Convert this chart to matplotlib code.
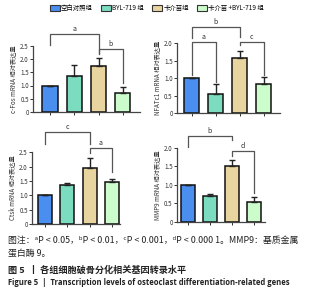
import matplotlib
matplotlib.use('Agg')
import matplotlib.pyplot as plt
import matplotlib.patches as patches

plt.rcParams['font.family'] = ['Noto Sans CJK SC', 'DejaVu Sans']

groups = ['空白对照组', 'BYL-719 组', '卡介苗组', '卡介苗 +BYL-719 组']
colors = ['#4a8ef0', '#7cdcc0', '#e8d49e', '#ccfccc']

genes = ['c-Fos', 'NFATc1', 'Ctsk', 'MMP9']
means = {
    'c-Fos': [1.0, 1.35, 1.72, 0.73],
    'NFATc1': [1.0, 0.55, 1.58, 0.82],
    'Ctsk': [1.0, 1.35, 1.95, 1.47],
    'MMP9': [1.0, 0.70, 1.50, 0.55],
}
errors = {
    'c-Fos': [0.0, 0.43, 0.33, 0.20],
    'NFATc1': [0.0, 0.28, 0.20, 0.21],
    'Ctsk': [0.0, 0.07, 0.35, 0.08],
    'MMP9': [0.0, 0.05, 0.18, 0.13],
}
ymax = {'c-Fos': 2.5, 'NFATc1': 2.0, 'Ctsk': 2.5, 'MMP9': 2.0}

# brackets: (left bar, right bar, top, left leg end, right leg end, label)
brackets = {
    'c-Fos': [(0, 2, 2.95, 2.54, 2.23, 'a'), (2, 3, 2.39, 2.20, 1.10, 'b')],
    'NFATc1': [(0, 2, 2.46, 2.14, 2.17, 'b'), (0, 1, 2.03, 1.10, 0.89, 'a'),
               (2, 3, 2.03, 1.94, 1.08, 'c')],
    'Ctsk': [(0, 2, 3.19, 2.78, 2.78, 'c'), (2, 3, 2.64, 2.47, 1.80, 'a')],
    'MMP9': [(0, 2, 2.32, 2.03, 2.20, 'b'), (2, 3, 1.92, 1.78, 0.78, 'd')],
}

# axes placement in figure fraction and x-limits
axes_pos = {
    'c-Fos': ([0.0985, 0.627, 0.319, 0.220], (-0.70, 3.70)),
    'NFATc1': ([0.528, 0.623, 0.307, 0.233], (-0.62, 3.67)),
    'Ctsk': ([0.0955, 0.253, 0.263, 0.240], (-0.58, 3.36)),
    'MMP9': ([0.528, 0.260, 0.263, 0.247], (-0.50, 3.50)),
}

fig = plt.figure(figsize=(3.35, 3.0), dpi=100)

for g in genes:
    pos, xl = axes_pos[g]
    ax = fig.add_axes(pos)
    x = range(len(groups))
    ax.bar(x, means[g], width=0.62, color=colors, edgecolor='#111111', lw=1.1, zorder=2)
    ax.errorbar(x, means[g], yerr=[[0] * 4, errors[g]], fmt='none', ecolor='#222222',
                elinewidth=1.0, capsize=2.5, capthick=1.0, zorder=3)
    ax.set_xlim(*xl)
    ax.set_ylim(0, ymax[g])
    ticks = [i * 0.5 for i in range(int(ymax[g] / 0.5) + 1)]
    ax.set_yticks(ticks)
    ax.set_yticklabels(['0'] + ['%.1f' % t for t in ticks[1:]])
    ax.set_xticks(list(x))
    ax.set_xticklabels([])
    ax.tick_params(axis='both', labelsize=4.5, length=2, width=0.7, colors='#333333', pad=1)
    for s in ['top', 'right']:
        ax.spines[s].set_visible(False)
    for s in ['left', 'bottom']:
        ax.spines[s].set_linewidth(0.9)
        ax.spines[s].set_color('#444444')
    ax.set_ylabel(g + ' mRNA 相对表达量', fontsize=4.5, color='#333333', labelpad=2)

    for (i, j, top, lend, rend, lab) in brackets[g]:
        ax.plot([i, i, j, j], [lend, top, top, rend], color='#555555', lw=0.9,
                clip_on=False, zorder=4)
        ax.text((i + j) / 2, top + 0.03, lab, ha='center', va='bottom', fontsize=5,
                color='#333333', clip_on=False)

handles = [patches.Patch(facecolor=c, edgecolor='#333333', lw=0.8) for c in colors]
fig.legend(handles, groups, loc='upper center', bbox_to_anchor=(0.468, 1.005), ncol=4,
           fontsize=4.6, frameon=False, handlelength=1.6, handleheight=0.9,
           handletextpad=0.15, columnspacing=1.3)

cap_color = '#222222'
fig.text(0.024, 0.197, '图注：ᵃP < 0.05，ᵇP < 0.01，ᶜP < 0.001，ᵈP < 0.000 1。MMP9：基质金属',
         fontsize=6.4, color=cap_color, va='center', ha='left')
fig.text(0.024, 0.157, '蛋白酶 9。', fontsize=6.4, color=cap_color, va='center', ha='left')
fig.text(0.024, 0.100, '图 5  丨 各组细胞破骨分化相关基因转录水平', fontsize=6.6,
         color=cap_color, va='center', ha='left', fontweight='bold')
fig.text(0.024, 0.057, 'Figure 5  |  Transcription levels of osteoclast differentiation-related genes',
         fontsize=5.5, color=cap_color, va='center', ha='left', fontweight='bold',
         family=['Open Sans', 'DejaVu Sans'])

plt.savefig('out.png', dpi=100)
plt.close()
